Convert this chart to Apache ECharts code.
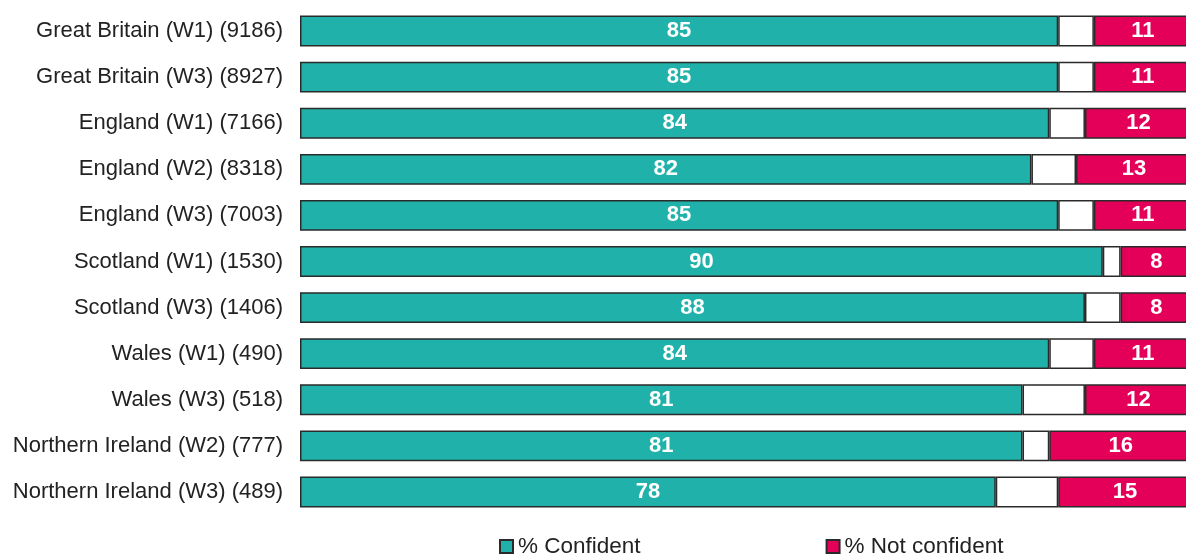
<!DOCTYPE html>
<html>
<head>
<meta charset="utf-8">
<script src="https://cdn.jsdelivr.net/npm/echarts@6/dist/echarts.min.js"></script>
<style>
  html, body { margin: 0; padding: 0; background: #fff; }
  #chart { width: 1186px; height: 554px; }
</style>
</head>
<body>
<div id="chart"></div>
<script>
const categories = [
  "Great Britain (W1) (9186)", "Great Britain (W3) (8927)",
  "England (W1) (7166)", "England (W2) (8318)", "England (W3) (7003)",
  "Scotland (W1) (1530)", "Scotland (W3) (1406)",
  "Wales (W1) (490)", "Wales (W3) (518)",
  "Northern Ireland (W2) (777)", "Northern Ireland (W3) (489)"
]
const confident = [85, 85, 84, 82, 85, 90, 88, 84, 81, 81, 78]
const neither = [4, 4, 4, 5, 4, 2, 4, 5, 7, 3, 7]
const notConfident = [11, 11, 12, 13, 11, 8, 8, 11, 12, 16, 15]

let chart = echarts.init(document.getElementById("chart"))

let barLabel = {
  show: true,
  position: "inside",
  color: "#fff",
  fontWeight: "bold",
  fontSize: 22,
  padding: [3, 0, 0, 0],
  fontFamily: "Liberation Sans, Arial, sans-serif"
}
let border = { borderColor: "#2a2a2a", borderWidth: 1.5 }

let option = {
  animation: false,
  textStyle: { fontFamily: "Liberation Sans, Arial, sans-serif" },
  grid: { left: 300, top: 8, width: 892, height: 507, outerBoundsMode: "none", containLabel: false },
  legend: {
    data: ["% Confident", "% Not confident"],
    top: 530,
    left: 494,
    itemWidth: 13,
    itemHeight: 13,
    itemGap: 185,
    icon: "rect",
    textStyle: { fontSize: 22.5, color: "#222" }
  },
  xAxis: { type: "value", min: 0, max: 100, show: false },
  yAxis: {
    type: "category",
    data: categories,
    inverse: true,
    axisLine: { show: false },
    axisTick: { show: false },
    axisLabel: { fontSize: 22, color: "#222", margin: 17, padding: [3, 0, 0, 0] }
  },
  series: [
    {
      name: "% Confident",
      type: "bar",
      stack: "all",
      barWidth: "67%",
      data: confident,
      itemStyle: Object.assign({ color: "#20B2AA" }, border),
      label: barLabel
    },
    {
      name: "Neither",
      type: "bar",
      stack: "all",
      data: neither,
      itemStyle: Object.assign({ color: "#ffffff" }, border),
      label: { show: false }
    },
    {
      name: "% Not confident",
      type: "bar",
      stack: "all",
      data: notConfident,
      itemStyle: Object.assign({ color: "#E40058" }, border),
      label: barLabel
    }
  ]
}
chart.setOption(option)
</script>
</body>
</html>
